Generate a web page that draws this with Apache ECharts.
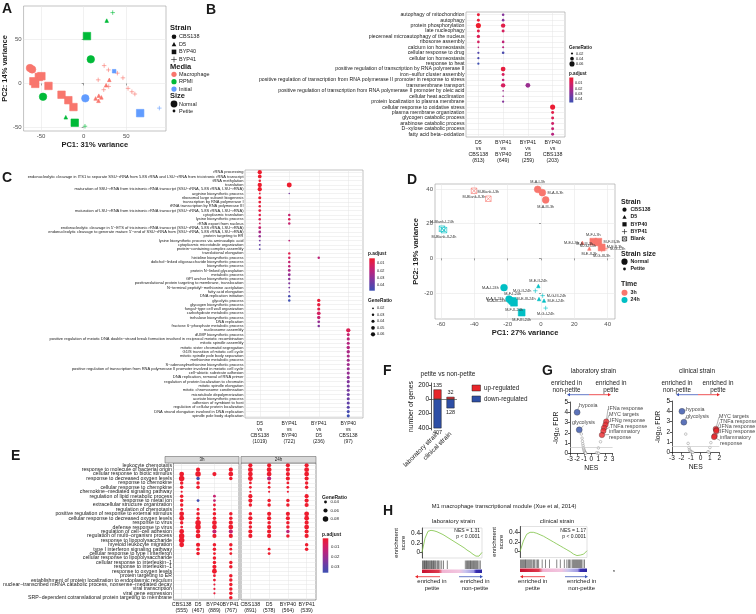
<!DOCTYPE html>
<html>
<head>
<meta charset="utf-8">
<script src="https://cdn.jsdelivr.net/npm/echarts@6/dist/echarts.min.js"></script>
<style>html,body{margin:0;background:#fff}#main{width:756px;height:614px}</style>
</head>
<body>
<div id="main"></div>
<script>
var FONT = 'Liberation Sans';
var PCOL = ['#ee1c2e', '#d81f5c', '#b8247e', '#8f3197', '#6240a8', '#3d4fb2'];

// ---------- A: PCA ----------
// [PC1, PC2, strain(0 CBS138,1 D5,2 BYP40,3 BYP41), petite]
var aMacrophage = [[-63,17.5,0,0],[-60.5,16,0,0],[-52.6,7.5,2,0],[-49.6,8.3,2,0],[-59,2.5,2,0],[-56.8,-0.5,2,0],
  [-41.3,-2.8,2,0],[-26,-12.8,2,0],[-18,-19,2,0],[-12,-26.8,2,0],
  [17.7,-13.9,1,1],[14,-17,1,1],[20.7,-15.8,1,1],[17.3,-19.7,1,1],[30,4.1,1,1],[26.3,-2,1,1],
  [24,20.3,3,1],[29,15.4,3,1],[39.5,11.7,3,1],[46,6.4,3,1],[52,-5.6,3,1],[56.5,-9.4,3,1],[60,-12,3,1],
  [17,4.1,3,1],[29.3,-3.4,3,1],[23.5,-7.1,3,1]];
var aRPMI = [[3.8,53.8,2,0],[-10.5,-44.6,2,0],[8.3,27.4,0,0],[-47.7,-15.1,0,0],[-21,-38.4,1,1],[27,71.4,1,1],
  [34,80.5,3,1],[1.5,-48.6,3,1]];
var aInitial = [[1.9,-16.9,0,0],[66.2,-33.7,2,0],[35.7,13.9,2,1],[88.7,-28,3,1]];
var aStrains = ['CBS138', 'D5', 'BYP40', 'BYP41'];
var aMedia = ['Macrophage', 'RPMI', 'Initial'];

// ---------- B ----------
var bTerms = ['autophagy of mitochondrion','autophagy','protein phosphorylation','late nucleophagy',
  'piecemeal microautophagy of the nucleus','ribosome assembly','calcium ion homeostasis','cellular response to drug',
  'cellular ion homeostasis','response to heat','positive regulation of transcription by RNA polymerase II',
  'iron\u2212sulfur cluster assembly','positive regulation of transcription from RNA polymerase II promoter in response to stress',
  'transmembrane transport','positive regulation of transcription from RNA polymerase II promoter by oleic acid',
  'cellular heat acclimation','protein localization to plasma membrane','cellular response to oxidative stress',
  'plasma membrane organization','glycogen catabolic process','arabinose catabolic process','D\u2212xylose catabolic process',
  'fatty acid beta\u2212oxidation'];
var bCols = ['D5\nvs\nCBS138\n(813)', 'BYP41\nvs\nBYP40\n(649)', 'BYP41\nvs\nD5\n(259)', 'BYP40\nvs\nCBS138\n(203)'];
// [column, term, GeneRatio, p.adjust]
var bDots = [[0,0,.03,.005],[0,1,.03,.005],[0,2,.06,.003],[0,3,.03,.008],[0,4,.035,.01],[0,5,.025,.012],[0,6,.012,.02],
  [0,7,.02,.04],[0,8,.02,.042],[0,9,.02,.045],
  [1,0,.025,.03],[1,1,.025,.03],[1,2,.05,.008],[1,3,.03,.012],[1,5,.025,.018],[1,6,.018,.02],[1,7,.025,.042],
  [1,10,.055,.006],[1,11,.03,.012],[1,12,.025,.018],[1,13,.05,.012],[1,14,.012,.025],[1,15,.012,.025],[1,16,.02,.03],
  [2,13,.055,.026],
  [3,17,.06,.004],[3,18,.03,.008],[3,19,.03,.01],[3,20,.03,.014],[3,21,.03,.016],[3,22,.03,.02]];

// ---------- C ----------
var cTerms = ['rRNA processing',
  'endonucleolytic cleavage in ITS1 to separate SSU\u2212rRNA from 5.8S rRNA and LSU\u2212rRNA from tricistronic rRNA transcript',
  'tRNA methylation','translation',
  'maturation of SSU\u2212rRNA from tricistronic rRNA transcript (SSU\u2212rRNA, 5.8S rRNA, LSU\u2212rRNA)',
  'arginine biosynthetic process','ribosomal large subunit biogenesis','transcription by RNA polymerase I',
  'tRNA transcription by RNA polymerase III',
  'maturation of LSU\u2212rRNA from tricistronic rRNA transcript (SSU\u2212rRNA, 5.8S rRNA, LSU\u2212rRNA)',
  'cytoplasmic translation','lysine biosynthetic process','rRNA export from nucleus',
  'endonucleolytic cleavage in 5\u2032\u2212ETS of tricistronic rRNA transcript (SSU\u2212rRNA, 5.8S rRNA, LSU\u2212rRNA)',
  'endonucleolytic cleavage to generate mature 5\u2032\u2212end of SSU\u2212rRNA from (SSU\u2212rRNA, 5.8S rRNA, LSU\u2212rRNA)',
  'protein targeting to ER','lysine biosynthetic process via aminoadipic acid','cytoplasmic microtubule organization',
  'protein\u2212containing complex assembly','translational elongation','histidine biosynthetic process',
  'dolichol\u2212linked oligosaccharide biosynthetic process','biosynthetic process','protein N\u2212linked glycosylation',
  'metabolic process','GPI anchor biosynthetic process','posttranslational protein targeting to membrane, translocation',
  'N\u2212terminal peptidyl\u2212methionine acetylation','fatty acid elongation','DNA replication initiation',
  'glycolytic process','glycogen biosynthetic process','fungal\u2212type cell wall organization',
  'carbohydrate metabolic process','trehalose biosynthetic process','DNA replication',
  'fructose 6\u2212phosphate metabolic process','nucleosome assembly','dUMP biosynthetic process',
  'positive regulation of meiotic DNA double\u2212strand break formation involved in reciprocal meiotic recombination',
  'mitotic spindle assembly','mitotic sister chromatid segregation','G1/S transition of mitotic cell cycle',
  'mitotic spindle pole body separation','methionine metabolic process','S\u2212adenosylmethionine biosynthetic process',
  'positive regulation of transcription from RNA polymerase II promoter involved in meiotic cell cycle',
  'cell\u2212abiotic substrate adhesion','DNA replication, removal of RNA primer','regulation of protein localization to chromatin',
  'mitotic spindle elongation','mitotic chromosome condensation','microtubule depolymerization','acetate biosynthetic process',
  'adhesion of symbiont to host','regulation of cellular protein localization',
  'DNA strand elongation involved in DNA replication','spindle pole body duplication'];
var cCols = ['D5\nvs\nCBS138\n(1019)', 'BYP41\nvs\nBYP40\n(722)', 'BYP41\nvs\nD5\n(236)', 'BYP40\nvs\nCBS138\n(97)'];
var cDots = [[0,0,.06,.001],[0,1,.05,.001],[0,2,.03,.002],[0,3,.06,.001],[0,4,.06,.001],[0,5,.02,.004],[0,6,.04,.002],
  [0,7,.035,.003],[0,8,.03,.004],[0,9,.035,.004],[0,10,.03,.006],[0,11,.03,.008],[0,12,.02,.01],[0,13,.035,.014],
  [0,14,.035,.02],[0,15,.03,.024],[0,16,.02,.03],[0,17,.02,.034],[0,18,.02,.036],
  [1,3,.07,.001],[1,5,.015,.03],[1,10,.03,.014],[1,11,.03,.008],[1,12,.03,.014],[1,16,.02,.016],[1,19,.03,.006],
  [1,20,.03,.01],[1,21,.03,.014],[1,22,.03,.016],[1,23,.035,.02],[1,24,.035,.024],[1,25,.03,.026],[1,26,.025,.028],
  [1,27,.02,.03],[1,28,.015,.032],[1,29,.03,.04],[1,30,.03,.042],
  [2,20,.03,.016],[2,30,.045,.003],[2,31,.045,.004],[2,32,.04,.006],[2,33,.05,.01],[2,34,.045,.014],[2,35,.035,.024],
  [2,36,.03,.028],
  [3,37,.06,.008],[3,38,.04,.014],[3,39,.04,.016],[3,40,.04,.018],[3,41,.045,.018],[3,42,.045,.02],[3,43,.04,.02],
  [3,44,.04,.022],[3,45,.04,.022],[3,46,.04,.024],[3,47,.04,.024],[3,48,.04,.026],[3,49,.04,.028],[3,50,.04,.03],
  [3,51,.04,.03],[3,52,.04,.032],[3,53,.04,.032],[3,54,.04,.034],[3,55,.04,.036],[3,56,.04,.04],[3,57,.04,.042]];

// ---------- D: PCA ----------
// [PC1, PC2, strain(0 CBS138,1 D5,2 BYP40,3 BYP41,4 Blank), petite]
var d3h = [[-2,39.8,0,0],[0.8,37.9,0,0],[2.8,33.7,0,0],[31.4,9.6,2,0],[34.4,9.6,2,0],[36.4,6.3,2,0],
  [24.8,9,1,1],[29,5.6,1,1],[33.4,8.3,1,1],[39,5.6,3,1],[36.4,4.8,3,1],[35.4,7.1,3,1],[-40.2,39,4,0],[-31.6,34.4,4,0]];
var d3hNames = ['M-A-I-3h','M-A-II-3h','M-A-III-3h','M-F-I-3h','M-F-III-3h','M-F-II-3h','M-E-I-3h','M-E-II-3h',
  'M-E-III-3h','M-G-I-3h','M-G-III-3h','M-G-II-3h','M-Blank-II-3h','M-Blank-I-3h'];
var d24h = [[-22.2,-16.9,0,0],[-19.2,-23.5,0,0],[-18,-24.4,0,0],[-17,-24.6,2,0],[-16.2,-25.6,2,0],[-11.6,-31.3,2,0],
  [-1.6,-16,1,1],[-1.2,-23.5,1,1],[1.8,-24.4,1,1],[-3.4,-18.7,3,1],[2.8,-28.7,3,1],[1,-21.5,3,1],
  [-59.4,17.1,4,0],[-58.2,16.3,4,0]];
var d24hNames = ['M-A-I-24h','M-A-II-24h','M-A-III-24h','M-F-I-24h','M-F-II-24h','M-F-III-24h','M-E-II-24h',
  'M-E-III-24h','M-E-I-24h','M-G-II-24h','M-G-I-24h','M-G-III-24h','M-Blank-I-24h','M-Blank-II-24h'];
var d3hSide = ['top','right','bottom','top','right','right','left','bottom','left','right','bottom','left','bottom','top'];
var d24hSide = ['left','left','left','top','bottom','bottom','top','left','right','left','bottom','right','top','bottom'];

// ---------- E ----------
var eTerms = ['leukocyte chemotaxis','response to molecule of bacterial origin','cellular response to biotic stimulus',
  'response to decreased oxygen levels','response to chemokine','cellular response to chemokine',
  'chemokine\u2212mediated signaling pathway','regulation of lipid metabolic process','response to metal ion',
  'extracellular structure organization','regulation of chemotaxis','positive regulation of response to external stimulus',
  'cellular response to decreased oxygen levels','response to virus','defense response to virus',
  'regulation of cell\u2212cell adhesion','regulation of multi\u2212organism process','response to lipopolysaccharide',
  'myeloid leukocyte migration','type I interferon signaling pathway','cellular response to type I interferon',
  'cellular response to lipopolysaccharide','cellular response to interleukin\u22121','response to interleukin\u22121',
  'response to oxygen levels','protein targeting to ER','establishment of protein localization to endoplasmic reticulum',
  'nuclear\u2212transcribed mRNA catabolic process, nonsense\u2212mediated decay','viral transcription','viral gene expression',
  'SRP\u2212dependent cotranslational protein targeting to membrane'];
var eCols3h = ['CBS138\n(555)', 'D5\n(467)', 'BYP40\n(889)', 'BYP41\n(767)'];
var eCols24h = ['CBS138\n(891)', 'D5\n(578)', 'BYP40\n(564)', 'BYP41\n(539)'];
var eDots3h = [[0,2,.07,.001],[0,3,.08,.001],[0,4,.05,.001],[0,5,.05,.001],[0,6,.03,.002],[0,7,.05,.001],[0,8,.05,.001],
  [0,9,.05,.001],[0,10,.04,.002],[0,11,.07,.001],[0,12,.07,.001],[0,13,.05,.001],[0,14,.04,.002],[0,15,.07,.001],
  [0,16,.08,.001],[0,17,.08,.001],[0,18,.07,.001],
  [1,1,.06,.001],[1,2,.08,.001],[1,3,.05,.035],[1,4,.05,.001],[1,5,.05,.001],[1,8,.04,.035],[1,10,.04,.002],
  [1,11,.05,.001],[1,12,.05,.001],[1,13,.08,.001],[1,14,.08,.001],[1,15,.06,.001],[1,16,.07,.001],[1,18,.06,.001],
  [1,19,.05,.001],[1,20,.05,.001],
  [2,2,.06,.001],[2,7,.04,.012],[2,8,.04,.012],[2,9,.04,.002],[2,10,.04,.002],[2,11,.05,.001],[2,12,.05,.001],
  [2,13,.07,.001],[2,14,.07,.001],[2,15,.06,.012],[2,16,.06,.001],[2,18,.05,.001],[2,19,.05,.001],[2,20,.04,.001],
  [2,21,.05,.001],[2,22,.05,.001],[2,23,.06,.001],[2,24,.07,.001],[2,25,.04,.002],[2,26,.04,.002],[2,27,.03,.003],
  [2,28,.03,.003],[2,29,.03,.003],
  [3,1,.06,.001],[3,2,.07,.001],[3,3,.05,.001],[3,11,.05,.001],[3,12,.05,.001],[3,13,.06,.001],[3,14,.07,.001],
  [3,15,.06,.012],[3,16,.06,.001],[3,18,.05,.001],[3,19,.04,.001],[3,20,.04,.001],[3,22,.05,.001],[3,23,.05,.001],
  [3,25,.05,.001],[3,26,.05,.001],[3,27,.05,.001],[3,28,.05,.001],[3,29,.05,.001],[3,30,.05,.001]];
var eDots24h = [[0,0,.06,.001],[0,1,.07,.001],[0,2,.07,.001],[0,3,.07,.001],[0,4,.04,.001],[0,5,.04,.001],
  [0,6,.03,.002],[0,7,.06,.001],[0,8,.06,.001],[0,9,.05,.001],[0,11,.05,.001],[0,12,.06,.001],[0,13,.05,.001],
  [0,14,.05,.001],[0,15,.06,.001],[0,16,.06,.001],
  [1,0,.06,.001],[1,1,.07,.001],[1,2,.07,.001],[1,3,.06,.014],[1,4,.04,.001],[1,5,.04,.001],[1,6,.03,.002],
  [1,8,.05,.001],[1,9,.05,.001],[1,11,.06,.001],[1,12,.06,.001],[1,13,.05,.001],[1,14,.06,.001],[1,15,.06,.001],
  [1,16,.06,.001],[1,19,.04,.001],[1,20,.04,.001],
  [2,0,.06,.001],[2,1,.06,.001],[2,2,.06,.001],[2,3,.06,.001],[2,4,.04,.001],[2,5,.04,.001],[2,6,.03,.002],
  [2,8,.05,.001],[2,9,.05,.001],[2,11,.06,.001],[2,12,.06,.001],[2,13,.05,.001],[2,14,.05,.001],[2,15,.05,.014],
  [2,16,.05,.001],
  [3,0,.06,.001],[3,1,.07,.001],[3,2,.07,.001],[3,3,.06,.001],[3,4,.05,.001],[3,5,.05,.001],[3,7,.06,.001],
  [3,8,.06,.001],[3,9,.06,.001],[3,11,.07,.001],[3,12,.07,.001],[3,13,.06,.001],[3,14,.07,.001],[3,15,.06,.001],
  [3,16,.06,.001],[3,18,.05,.001],[3,19,.05,.001]];

// ---------- F ----------
var fCats = ['laboratory strain', 'clinical strain'];
var fUp = [135, 32];
var fDown = [-407, -128];

// ---------- G ----------
var g1Labeled = [[-2,4.0],[-1.7,2.3],[2.1,3.1],[2.0,2.8],[1.8,2.5],[1.7,2.2],[1.5,1.8]];
var g1Names = ['hypoxia','glycolysis','IFNa response','MYC targets','IFNg response','TNFa response','inflammatory\nresponse'];
var g1Open = [[-1.4,1.9],[-1.3,1.5],[-1.25,1.2],[-1.2,0.95],[-1.15,0.75],[-1.1,0.55],[-1.05,0.42],[-1.0,0.3],
  [-0.95,0.2],[-0.9,0.12],[-0.85,0.07],[-0.8,0.04],[1.3,1.15],[1.0,0.55],[0.75,0.08],[0.95,0.04],[1.05,0.02]];
var g2Labeled = [[-1.95,4.0],[-1.75,2.95],[1.62,2.3],[1.7,2.2],[1.66,2.1],[1.5,1.62],[1.44,1.52]];
var g2Names = ['hypoxia','glycolysis','MYC targets','TNFa response','IFNa response','IFNg response','inflammatory\nresponse'];
var g2Open = [[-1.55,1.8],[-1.3,0.9],[-1.2,0.5],[-1.15,0.3],[-1.1,0.18],[-1.0,0.1],[-0.9,0.05],[-0.8,0.02],
  [1.1,0.97],[1.0,0.5],[0.8,0.1],[0.9,0.04]];

// ---------- H ----------
var hCurve1 = [0,0.30,0.45,0.47,0.46,0.44,0.41,0.38,0.34,0.30,0.26,0.22,0.18,0.14,0.10,0.05,0.01,-0.04,-0.08,-0.08,0.0];
var hCurve2 = [0,0.22,0.36,0.40,0.40,0.38,0.35,0.32,0.28,0.24,0.20,0.16,0.12,0.08,0.04,0.0,-0.05,-0.08,-0.07,-0.05,0.02];
var hHits1 = [0.01,0.02,0.035,0.045,0.06,0.07,0.08,0.095,0.11,0.12,0.135,0.15,0.16,0.175,0.19,0.2,0.215,0.23,0.25,
  0.265,0.28,0.3,0.33,0.36,0.42,0.72,0.74,0.755,0.77,0.785,0.8,0.81,0.825,0.84,0.855,0.87,0.885,0.9,0.915,0.93,0.95,0.97];
var hHits2 = [0.01,0.025,0.04,0.05,0.065,0.08,0.09,0.105,0.12,0.135,0.15,0.165,0.18,0.2,0.22,0.24,0.26,0.28,0.33,0.38,
  0.44,0.55,0.6,0.66,0.7,0.72,0.74,0.76,0.78,0.8,0.815,0.83,0.845,0.86,0.875,0.89,0.9,0.92,0.94,0.96];

// ================= helpers =================
var PLUS = 'path://M5,0L5,10M0,5L10,5';
var BLANK = 'path://M0,0L10,0L10,10L0,10ZM0,0L10,10M10,0L0,10';
var SYMS = ['circle', 'triangle', 'rect', PLUS, BLANK];

function idxAxis(grid, labels, font, lh, margin, show, labelIdx) {
  var ticks = labels.map(function (_, i) { return i; });
  return {
    type: 'value', gridIndex: grid, min: -0.5, max: labels.length - 0.5,
    axisLine: {show: false}, axisTick: {show: false, customValues: ticks},
    axisLabel: {show: show !== false, customValues: labelIdx || ticks, formatter: function (v) { return labels[Math.round(v)]; },
      fontSize: font, lineHeight: lh, color: '#1a1a1a', margin: margin, showMinLabel: true, showMaxLabel: true,
      hideOverlap: false},
    splitLine: {show: true, lineStyle: {color: '#e4e4e4', width: 0.5}}
  };
}
function pcaAxis(grid, min, max, ticks, name, gap) {
  return {
    type: 'value', gridIndex: grid, min: min, max: max,
    axisLine: {show: false},
    axisTick: {show: true, customValues: ticks, length: 2, lineStyle: {color: '#444', width: 0.5}},
    axisLabel: {customValues: ticks, fontSize: 6, color: '#4d4d4d', margin: 2, showMinLabel: true, showMaxLabel: true},
    splitLine: {show: true, lineStyle: {color: '#e8e8e8', width: 0.6}},
    name: name, nameLocation: 'middle', nameGap: gap,
    nameTextStyle: {fontSize: 7.5, fontWeight: 'bold', color: '#1a1a1a'}
  };
}
function prismAxis(grid, min, max, interval, name, gap) {
  return {
    type: 'value', gridIndex: grid, min: min, max: max, interval: interval,
    axisLine: {show: true, onZero: false, lineStyle: {color: '#111', width: 0.7}},
    axisTick: {show: true, length: 2, lineStyle: {color: '#111', width: 0.7}},
    axisLabel: {fontSize: 6.5, color: '#111', margin: 2, showMinLabel: true, showMaxLabel: true},
    splitLine: {show: false},
    name: name, nameLocation: 'middle', nameGap: gap,
    nameTextStyle: {fontSize: 6.8, color: '#111', rich: {sub: {fontSize: 4.5, verticalAlign: 'bottom', padding: [3, 0, 0, 0]}}}
  };
}
function hidden(grid, min, max) {
  return {type: 'value', gridIndex: grid, min: min, max: max, show: false, splitLine: {show: false}};
}
function gridBox(left, top, width, height, border) {
  return {left: left, top: top, width: width, height: height, show: true, backgroundColor: '#fff',
    borderColor: border || '#9a9a9a', borderWidth: border === 'none' ? 0 : 0.6};
}
var sizeB = function (g) { return 0.8 + g * 72; };
var sizeC = function (g) { return 0.6 + g * 62; };
var sizeE = function (g) { return 0.2 + g * 66; };

// graphic helpers
function T(x, y, text, size, o) {
  o = o || {};
  return {type: 'text', x: x, y: y, silent: true, z: 100,
    style: {text: text, font: (o.bold ? 'bold ' : '') + size + 'px "' + FONT + '"', fill: o.fill || '#1a1a1a',
      align: o.align || 'left', verticalAlign: o.v || 'middle', lineHeight: o.lh}};
}
function C(cx, cy, r, fill) { return {type: 'circle', silent: true, z: 100, shape: {cx: cx, cy: cy, r: r}, style: {fill: fill}}; }
function L(x1, y1, x2, y2, stroke, w) {
  return {type: 'line', silent: true, z: 100, shape: {x1: x1, y1: y1, x2: x2, y2: y2}, style: {stroke: stroke, lineWidth: w || 0.8}};
}
function P(points, fill, stroke) {
  return {type: 'polygon', silent: true, z: 100, shape: {points: points}, style: {fill: fill || 'none', stroke: stroke, lineWidth: 0.7}};
}
function R(x, y, w, h, fill, stroke) {
  return {type: 'rect', silent: true, z: 100, shape: {x: x, y: y, width: w, height: h},
    style: {fill: fill, stroke: stroke || null, lineWidth: 0.5}};
}
function keySym(k, x, y, s, col) {
  if (k === 0) return [C(x, y, s, col)];
  if (k === 1) return [P([[x, y - s], [x + s, y + s * 0.8], [x - s, y + s * 0.8]], col)];
  if (k === 2) return [R(x - s, y - s, 2 * s, 2 * s, col)];
  if (k === 3) return [L(x - s - 0.5, y, x + s + 0.5, y, col, 0.6), L(x, y - s - 0.5, x, y + s + 0.5, col, 0.6)];
  return [P([[x - s, y - s], [x + s, y - s], [x + s, y + s], [x - s, y + s]], 'none', col),
    L(x - s, y - s, x + s, y + s, col, 0.6), L(x + s, y - s, x - s, y + s, col, 0.6)];
}
function arrowH(x1, x2, y, col) { // head at x2
  var d = x2 > x1 ? -1 : 1;
  return [L(x1, y, x2 + d * 2, y, col, 0.8), P([[x2, y], [x2 + d * 3, y - 1.6], [x2 + d * 3, y + 1.6]], col)];
}
function pGrad(x, y, w, h) {
  var stops = PCOL.map(function (c, i) { return {offset: i / (PCOL.length - 1), color: c}; });
  return R(x, y, w, h, new echarts.graphic.LinearGradient(0, 0, 0, 1, stops));
}

// ================= grids / axes =================
var grids = [
  gridBox(19, 6, 147, 125),          // 0 A
  gridBox(466, 12, 99, 125),         // 1 B
  gridBox(245, 170, 118, 248),       // 2 C
  gridBox(435, 184, 180, 135),       // 3 D
  gridBox(165, 463, 74, 140, '#555'),// 4 E 3h
  gridBox(241, 463, 75, 140, '#555'),// 5 E 24h
  gridBox(431, 383, 26, 47, 'none'), // 6 F
  gridBox(570, 402, 42.6, 51.6, 'none'), // 7 G lab
  gridBox(672, 401, 47.4, 51.7, 'none'), // 8 G clinical
  gridBox(422, 528, 60, 30, '#cfcfcf'),  // 9 H lab curve
  gridBox(422, 560, 60, 13, 'none'),     // 10 H lab barcode
  gridBox(520, 526.5, 67, 31, '#cfcfcf'),// 11 H clin curve
  gridBox(520, 559, 67, 13, 'none')      // 12 H clin barcode
];

var fY = prismAxis(6, -430, 225, null, 'number of genes', 16);
delete fY.interval;
fY.axisTick.customValues = [-400, -200, 0, 200];
fY.axisLabel.customValues = [-400, -200, 0, 200];
fY.axisLabel.formatter = function (v) { return String(Math.abs(v)); };

var hY1 = prismAxis(9, -0.12, 0.52, null, 'enrichment\nscore', 10);
var hY2 = prismAxis(11, -0.12, 0.52, null, 'enrichment\nscore', 10);
[hY1, hY2].forEach(function (a) {
  delete a.interval;
  a.axisTick.customValues = [0, 0.2, 0.4];
  a.axisLabel.customValues = [0, 0.2, 0.4];
  a.axisLabel.formatter = function (v) { return v === 0 ? '0' : v.toFixed(1); };
  a.nameTextStyle.fontSize = 6;
  a.nameTextStyle.lineHeight = 7;
});

var xAxes = [
  pcaAxis(0, -70.5, 96.5, [-50, 0, 50], 'PC1: 31% variance', 10),
  idxAxis(1, bCols, 5.3, 6, 3),
  idxAxis(2, cCols, 5, 5.8, 3),
  pcaAxis(3, -63.6, 44.4, [-60, -40, -20, 0, 20, 40], 'PC1: 27% variance', 10),
  idxAxis(4, eCols3h, 5.3, 6, 2),
  idxAxis(5, eCols24h, 5.3, 6, 2),
  {type: 'category', gridIndex: 6, data: fCats, axisLine: {show: false}, axisTick: {show: false},
    axisLabel: {rotate: 45, fontSize: 6.5, color: '#111', margin: 3, interval: 0}},
  prismAxis(7, -3, 3, 1, 'NES', 11),
  prismAxis(8, -3, 2, 1, 'NES', 11),
  hidden(9, 0, 1), hidden(10, 0, 1), hidden(11, 0, 1), hidden(12, 0, 1)
];
// E rows are tighter than the font, so its term labels are split over two stacked left axes (even / odd rows)
var eEven = [], eOdd = [];
eTerms.forEach(function (_, i) { (i % 2 ? eOdd : eEven).push(i); });
var bY = idxAxis(1, bTerms, 5.2, 4.6, 1.5); bY.inverse = true;
var cY = idxAxis(2, cTerms, 4, 3.5, 1.5); cY.inverse = true;
var e1Y = idxAxis(4, eTerms, 5.2, 4, 1.5, true, eEven); e1Y.inverse = true; e1Y.position = 'left';
var e1YOdd = idxAxis(4, eTerms, 5.2, 4, 1.5, true, eOdd); e1YOdd.inverse = true; e1YOdd.position = 'left';
e1YOdd.offset = 0;
e1YOdd.splitLine = {show: false};
var e2Y = idxAxis(5, eTerms, 5.2, 4, 1.5, false); e2Y.inverse = true;
var gY1 = prismAxis(7, 0, 5, 1, '-log{sub|10} FDR', 8);
var gY2 = prismAxis(8, 0, 5, 1, '-log{sub|10} FDR', 8);
var yAxes = [
  pcaAxis(0, -54, 88, [-50, 0, 50], 'PC2: 14% variance', 11),
  bY, cY,
  pcaAxis(3, -35, 42.9, [-20, 0, 20, 40], 'PC2: 19% variance', 11),
  e1Y, e2Y, fY, gY1, gY2,
  hY1, hidden(10, 0, 1), hY2, hidden(12, 0, 1),
  e1YOdd
];

// ================= series =================
var series = [];
function add(s) { s.silent = true; series.push(s); return series.length - 1; }

// A
[[aMacrophage, '#F8766D'], [aRPMI, '#00BA38'], [aInitial, '#619CFF']].forEach(function (g) {
  add({type: 'scatter', xAxisIndex: 0, yAxisIndex: 0, data: g[0],
    symbol: function (v) { return SYMS[v[2]]; },
    symbolSize: function (v) { return v[3] ? (v[2] === 3 ? 4.5 : 3.6) : 7.5; },
    itemStyle: {color: g[1], borderColor: g[1], borderWidth: 0.6, opacity: 1}});
});

// D
[[d3h, d3hNames, d3hSide, '#F8766D'], [d24h, d24hNames, d24hSide, '#00BFC4']].forEach(function (g) {
  add({type: 'scatter', xAxisIndex: 3, yAxisIndex: 3,
    data: g[0].map(function (v, i) { return {name: g[1][i], value: v, label: {position: g[2][i]}}; }),
    symbol: function (v) { return SYMS[v[2]]; },
    symbolSize: function (v) { return v[2] === 4 ? 5.5 : (v[3] ? (v[2] === 3 ? 4.5 : 3.4) : 6.8); },
    itemStyle: {color: function (p) { return p.value[2] === 4 ? 'rgba(0,0,0,0)' : g[3]; },
      borderColor: g[3], borderWidth: 0.6, opacity: 1},
    label: {show: true, formatter: '{b}', fontSize: 3.8, color: '#333', distance: 1.5}});
});

// B, C, E dot plots
var bIdx = [add({type: 'scatter', xAxisIndex: 1, yAxisIndex: 1, data: bDots,
  symbolSize: function (v) { return sizeB(v[2]); }, itemStyle: {opacity: 1}})];
var cIdx = [add({type: 'scatter', xAxisIndex: 2, yAxisIndex: 2, data: cDots,
  symbolSize: function (v) { return sizeC(v[2]); }, itemStyle: {opacity: 1}})];
var eIdx = [
  add({type: 'scatter', xAxisIndex: 4, yAxisIndex: 4, data: eDots3h,
    symbolSize: function (v) { return sizeE(v[2]); }, itemStyle: {opacity: 1}}),
  add({type: 'scatter', xAxisIndex: 5, yAxisIndex: 5, data: eDots24h,
    symbolSize: function (v) { return sizeE(v[2]); }, itemStyle: {opacity: 1}})
];

// F
add({type: 'bar', xAxisIndex: 6, yAxisIndex: 6, stack: 'f', data: fUp, barWidth: 8,
  itemStyle: {color: '#e8262a', borderColor: '#222', borderWidth: 0.5},
  label: {show: true, position: 'top', fontSize: 5.5, color: '#222', distance: 1},
  markLine: {silent: true, symbol: 'none', data: [{yAxis: 0}], label: {show: false},
    lineStyle: {color: '#333', width: 0.6, type: 'solid'}}});
add({type: 'bar', xAxisIndex: 6, yAxisIndex: 6, stack: 'f', data: fDown, barWidth: 8,
  itemStyle: {color: '#2e4fa6', borderColor: '#222', borderWidth: 0.5},
  label: {show: true, position: 'bottom', fontSize: 5.5, color: '#222', distance: 1,
    formatter: function (p) { return String(Math.abs(p.value)); }}});

// G
function gSeries(ax, open, labeled, names, labPos) {
  add({type: 'scatter', xAxisIndex: ax, yAxisIndex: ax, data: open, symbolSize: 2.6,
    itemStyle: {color: '#fff', borderColor: '#777', borderWidth: 0.5},
    markLine: {silent: true, symbol: 'none', data: [{yAxis: 0.6}], label: {show: false},
      lineStyle: {color: '#c8c8c8', width: 0.7, type: 'solid'}}});
  add({type: 'scatter', xAxisIndex: ax, yAxisIndex: ax,
    data: labeled.map(function (v, i) { return {name: names[i], value: v}; }),
    symbolSize: function (v) { return v[0] < 0 ? 6 : 5.5; },
    itemStyle: {color: function (p) { return p.value[0] < 0 ? '#3350a8' : '#e8262a'; }, borderColor: '#333', borderWidth: 0.4},
    label: {show: true, formatter: '{b}', fontSize: 5.4, color: '#111', lineHeight: 5.5},
    labelLayout: function (p) { var q = labPos[p.dataIndex]; return {x: q[0], y: q[1], align: 'left', verticalAlign: 'middle'}; },
    labelLine: {show: true, lineStyle: {color: '#444', width: 0.4}}});
}
// label anchor points (pixels) for the annotated gene sets
var g1LabPos = [[579, 406], [572, 423], [608, 409], [609, 415], [610, 421], [610, 427], [609, 434.5]];
var g2LabPos = [[686, 410], [686, 417], [719, 417], [720, 422], [720, 427], [720, 432], [720, 440.5]];
gSeries(7, g1Open, g1Labeled, g1Names, g1LabPos);
gSeries(8, g2Open, g2Labeled, g2Names, g2LabPos);

// H
function hSeries(axC, axB, curve, hits, grad) {
  add({type: 'line', xAxisIndex: axC, yAxisIndex: axC, showSymbol: false,
    data: curve.map(function (v, i) { return [i / (curve.length - 1), v]; }),
    lineStyle: {color: '#7cc242', width: 0.8}});
  add({type: 'scatter', xAxisIndex: axB, yAxisIndex: axB,
    data: hits.map(function (h) { return [h, 0.64]; }), symbol: 'rect', symbolSize: [0.6, 8.5],
    itemStyle: {color: '#222', opacity: 0.9},
    markArea: {silent: true, data: [[{xAxis: 0, yAxis: 0}, {xAxis: 1, yAxis: 0.27}]],
      itemStyle: {color: new echarts.graphic.LinearGradient(0, 0, 1, 0, grad)}}});
}
var hGrad = [{offset: 0, color: '#c8102e'}, {offset: 0.28, color: '#de3a4e'}, {offset: 0.34, color: '#f0b4d2'},
  {offset: 0.62, color: '#f2c6e0'}, {offset: 0.72, color: '#c9c5ee'}, {offset: 0.86, color: '#9d98e2'},
  {offset: 0.9, color: '#3a2fb0'}, {offset: 1, color: '#2a25a0'}];
hSeries(9, 10, hCurve1, hHits1, hGrad);
hSeries(11, 12, hCurve2, hHits2, hGrad);

// ================= graphic (panel letters, legends, notes) =================
var g = [];
function push(a) { g.push.apply(g, a); }
push([T(2, 9, 'A', 14, {bold: true}), T(206, 10, 'B', 14, {bold: true}), T(2, 178, 'C', 14, {bold: true}),
  T(407, 180, 'D', 14, {bold: true}), T(11, 456, 'E', 14, {bold: true}), T(383, 371, 'F', 14, {bold: true}),
  T(542, 371, 'G', 14, {bold: true}), T(383, 511, 'H', 14, {bold: true})]);

// A legend
push([T(170, 28, 'Strain', 7.5, {bold: true})]);
aStrains.forEach(function (s, i) { var y = 36.7 + i * 7.6; push(keySym(i, 174, y, 2.3, '#111')); push([T(179, y, s, 5.5)]); });
push([T(170, 67, 'Media', 7.5, {bold: true})]);
aMedia.forEach(function (s, i) {
  var y = 74.3 + i * 7.4; push([C(174, y, 2.6, ['#F8766D', '#00BA38', '#619CFF'][i]), T(179, y, s, 5.5)]);
});
push([T(170, 96, 'Size', 7.5, {bold: true}), C(174, 104, 3.4, '#111'), T(179, 104, 'Normal', 5.5),
  C(174, 111, 1.4, '#111'), T(179, 111, 'Petite', 5.5)]);

// D legend
push([T(621, 202, 'Strain', 7, {bold: true})]);
['CBS138', 'D5', 'BYP40', 'BYP41', 'Blank'].forEach(function (s, i) {
  var y = 209.7 + i * 7.3; push(keySym(i, 624.5, y, 2.1, '#111')); push([T(630.5, y, s, 5.3, {bold: true})]);
});
push([T(621, 253.7, 'Strain size', 7, {bold: true}), C(624.5, 261.7, 3.1, '#111'), T(630.5, 261.7, 'Normal', 5.3, {bold: true}),
  C(624.5, 269, 1.4, '#111'), T(630.5, 269, 'Petite', 5.3, {bold: true}),
  T(621, 284, 'Time', 7, {bold: true}), C(624.5, 292.7, 3, '#F8766D'), T(630.5, 292.7, '3h', 5.3, {bold: true}),
  C(624.5, 300, 3, '#00BFC4'), T(630.5, 300, '24h', 5.3, {bold: true})]);

// B legend
push([T(569, 48, 'GeneRatio', 4.6, {bold: true})]);
[0.02, 0.04, 0.06].forEach(function (v, i) { var y = 53.5 + i * 5.2; push([C(572, y, sizeB(v) / 2, '#111'), T(576, y, v.toFixed(2), 3.8)]); });
push([T(569, 74, 'p.adjust', 4.6, {bold: true}), pGrad(569.3, 77.5, 4, 25)]);
['0.01', '0.02', '0.03', '0.04'].forEach(function (s, i) { push([T(575, 83.3 + i * 5.3, s, 3.8)]); });

// C legend
push([T(368, 254, 'p.adjust', 4.8, {bold: true}), pGrad(369.3, 258.3, 5.5, 32.4)]);
['0.01', '0.02', '0.03', '0.04'].forEach(function (s, i) { push([T(377, 263.3 + i * 7.2, s, 3.8)]); });
push([T(368, 301, 'GeneRatio', 4.8, {bold: true})]);
[0.02, 0.03, 0.04, 0.05, 0.06].forEach(function (v, i) { var y = 308.3 + i * 6.5; push([C(373, y, sizeC(v) / 2, '#111'), T(377, y, v.toFixed(2), 3.8)]); });

// E strips and legend
push([R(165, 456.5, 74, 6.5, '#d9d9d9', '#555'), T(202, 459.8, '3h', 4.5, {align: 'center'}),
  R(241, 456.5, 75, 6.5, '#d9d9d9', '#555'), T(278.5, 459.8, '24h', 4.5, {align: 'center'})]);
push([T(322, 497.3, 'GeneRatio', 5, {bold: true})]);
[0.04, 0.06, 0.08].forEach(function (v, i) { var y = 502 + i * 8.5; push([C(325.5, y, sizeE(v) / 2, '#111'), T(330.5, y, v.toFixed(2), 4.3)]); });
push([T(322, 534.3, 'p.adjust', 5, {bold: true}), pGrad(322.7, 538.3, 5.6, 34.4)]);
['0.01', '0.02', '0.03'].forEach(function (s, i) { push([T(331, 547.3 + i * 9.7, s, 4.3)]); });

// F legend
push([T(448, 374, 'petite vs non-petite', 6.5, {align: 'center'}),
  R(472, 385, 8.5, 6, '#e8262a', '#222'), T(484, 388, 'up-regulated', 6.3),
  R(472, 396, 8.5, 6, '#2e4fa6', '#222'), T(484, 399, 'down-regulated', 6.3)]);

// G headers
push([T(593.5, 371, 'laboratory strain', 6.3, {align: 'center'}), T(697, 371, 'clinical strain', 6.3, {align: 'center'}),
  T(566.5, 387, 'enriched in\nnon-petite', 6.3, {align: 'center', lh: 7}), T(611, 387, 'enriched in\npetite', 6.3, {align: 'center', lh: 7}),
  T(677, 387, 'enriched in\nnon-petite', 6.3, {align: 'center', lh: 7}), T(718, 387, 'enriched in\npetite', 6.3, {align: 'center', lh: 7})]);
push(arrowH(589, 567, 394.7, '#3b55b8')); push(arrowH(589, 611, 394.7, '#e8262a'));
push(arrowH(698, 676, 394.7, '#3b55b8')); push(arrowH(698, 720, 394.7, '#e8262a'));

// H texts
push([T(504, 506, 'M1 macrophage transcriptional module (Xue et al, 2014)', 5.8, {align: 'center'}),
  T(453.5, 521.7, 'laboratory strain', 6, {align: 'center'}), T(557, 521.7, 'clinical strain', 6, {align: 'center'}),
  T(480, 533.5, 'NES = 1.31\np < 0.0001', 5, {align: 'right', lh: 5.6}),
  T(586, 533.5, 'NES = 1.17\np < 0.0001', 5, {align: 'right', lh: 5.6}),
  T(432, 585, 'enriched in\npetite', 6, {align: 'center', lh: 6.8}), T(475, 585, 'enriched in\nnon-petite', 6, {align: 'center', lh: 6.8}),
  T(532.7, 585, 'enriched in\npetite', 6, {align: 'center', lh: 6.8}), T(581.7, 585, 'enriched in\nnon-petite', 6, {align: 'center', lh: 6.8}),
  T(613, 571, 'n', 4)]);
push(arrowH(440, 415, 576.7, '#e8262a')); push(arrowH(459, 483, 576.7, '#3b55b8'));
push(arrowH(545, 520, 576.7, '#e8262a')); push(arrowH(565, 588, 576.7, '#3b55b8'));

var option = {
  animation: false,
  backgroundColor: '#fff',
  textStyle: {fontFamily: FONT},
  grid: grids,
  xAxis: xAxes,
  yAxis: yAxes,
  visualMap: [
    {type: 'continuous', show: false, seriesIndex: bIdx, dimension: 3, min: 0.003, max: 0.045, inRange: {color: PCOL}},
    {type: 'continuous', show: false, seriesIndex: cIdx, dimension: 3, min: 0.001, max: 0.042, inRange: {color: PCOL}},
    {type: 'continuous', show: false, seriesIndex: eIdx, dimension: 3, min: 0.001, max: 0.036, inRange: {color: PCOL}}
  ],
  series: series,
  graphic: g
};
var chart = echarts.init(document.getElementById('main'));
chart.setOption(option);
</script>
</body>
</html>
